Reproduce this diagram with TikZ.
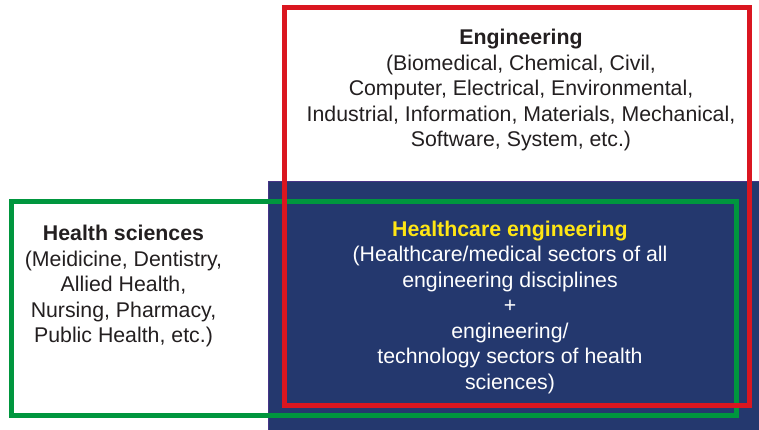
\documentclass[tikz,border=0pt]{standalone}
\usepackage{fontspec}
\setmainfont{Liberation Sans}
\usetikzlibrary{positioning}

\definecolor{navyfill}{RGB}{36,56,110}
\definecolor{navyedge}{RGB}{70,52,135}
\definecolor{engred}{RGB}{218,22,32}
\definecolor{hsgreen}{RGB}{0,150,62}
\definecolor{hcyellow}{RGB}{255,230,20}
\definecolor{textgray}{RGB}{35,31,32}

\begin{document}
\begin{tikzpicture}[x=1pt, y=-1pt,
    label/.style = {align=center, inner sep=0pt, font=\fontsize{21.3}{25.5}\selectfont},
    darktext/.style = {label, text=textgray},
    lighttext/.style = {label, text=white},
    overlap/.style = {fill=navyfill, draw=navyedge, line width=1pt},
    redframe/.style = {draw=engred, line width=5pt},
    greenframe/.style = {draw=hsgreen, line width=5pt}
]
\useasboundingbox (0,0) rectangle (759,430);

% Areas
\fill[white] (0,0) rectangle (759,430);
\draw [overlap] (268,182) rectangle (760,431);
\draw [greenframe] (11.5,201.5) rectangle (736,415.5);
\draw [redframe] (284.5,7.5) rectangle (749,405.5);

% Nodes
\node (eng) [darktext] at (521,90) {\textbf{Engineering}\\(Biomedical, Chemical, Civil,\\Computer, Electrical, Environmental,\\Industrial, Information, Materials, Mechanical,\\Software, System, etc.)};
\node (health) [darktext] at (123.5,286) {\textbf{Health sciences}\\(Meidicine, Dentistry,\\Allied Health,\\Nursing, Pharmacy,\\Public Health, etc.)};
\node (care) [lighttext] at (510,307) {\textcolor{hcyellow}{\textbf{Healthcare engineering}}\\(Healthcare/medical sectors of all\\engineering disciplines\\+\\engineering/\\technology sectors of health\\sciences)};

\end{tikzpicture}
\end{document}
